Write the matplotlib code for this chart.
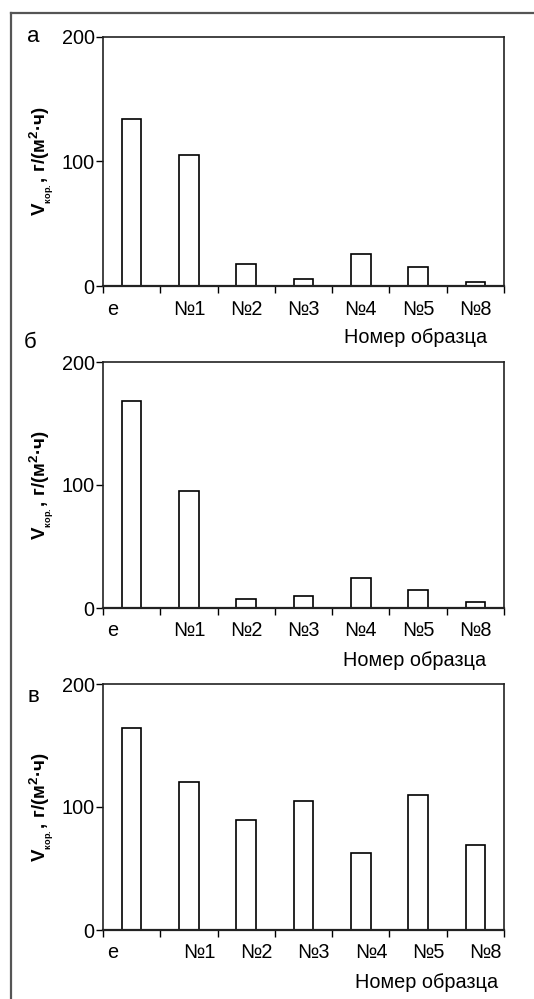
import matplotlib.pyplot as plt
import numpy as np
from matplotlib.lines import Line2D

plt.rcParams['font.family'] = ['Liberation Sans', 'DejaVu Sans']
plt.rcParams['mathtext.fontset'] = 'custom'
plt.rcParams['mathtext.rm'] = 'Liberation Sans'
plt.rcParams['mathtext.bf'] = 'Liberation Sans:bold'

samples = ['e', '№1', '№2', '№3', '№4', '№5', '№8']
rate_a = [134, 105, 17.5, 5.5, 25.5, 15.5, 3.5]
rate_b = [168, 95, 7.5, 9.5, 24.5, 14.5, 5]
rate_v = [164, 120, 89.5, 105, 63, 110, 69]
panel_letters = ['а', 'б', 'в']
xlabel = 'Номер образца'
ylabel = r'V$_{{}_{\mathregular{кор.}}}$, г/(м$^{\mathregular{2}}$·ч)'

W, H = 534, 999
fig = plt.figure(figsize=(W / 100, H / 100), dpi=100)

# outer frame: top and left lines only
fig.add_artist(Line2D([11 / W, 1.0], [1 - 12.5 / H] * 2, color='#555555', lw=1.6))
fig.add_artist(Line2D([11 / W] * 2, [0, 1 - 12.5 / H], color='#555555', lw=1.6))

# (top, bottom, label shift, xlabel y, xlabel right, letter x, letter y)
panels = [
    (37, 286, 0.0, 337, 487, 33, 36, rate_a),
    (362, 608, 0.0, 660, 486, 30, 343, rate_b),
    (684, 930, 0.18, 982, 498, 33, 697, rate_v),
]
left, right = 103, 504
x = np.arange(len(samples))
fs = 14.3

for (top, bot, shift, xl_y, xl_r, lx, ly, vals), letter in zip(panels, panel_letters):
    ax = fig.add_axes([left / W, 1 - bot / H, (right - left) / W, (bot - top) / H])
    ax.bar(x, vals, width=0.34, color='white', edgecolor='black', linewidth=1.2)
    ax.set_xlim(-0.5, len(samples) - 0.5)
    ax.set_ylim(0, 200)
    ax.set_yticks([0, 100, 200])
    ax.tick_params(axis='y', direction='out', length=5, width=1, labelsize=fs, pad=1)
    ax.set_xticks(np.arange(len(samples) + 1) - 0.5)
    ax.set_xticklabels([])
    ax.tick_params(axis='x', direction='out', length=5, width=1)
    for sp in ax.spines.values():
        sp.set_color('#222222')
        sp.set_linewidth(1.2)
    ax.spines['bottom'].set_linewidth(1.6)
    for i, s in enumerate(samples):
        pos = i - 0.33 if i == 0 else i + shift
        ax.text(pos, -23 / 246 * 200, s, ha='center', va='center', fontsize=fs,
                transform=ax.transData, clip_on=False)
    fig.text(xl_r / W, 1 - xl_y / H, xlabel, ha='right', va='center', fontsize=fs)
    fig.text(lx / W, 1 - ly / H, letter, ha='center', va='center', fontsize=16)
    ax.set_ylabel(ylabel, fontsize=13.5, fontweight='bold', labelpad=4)

fig.savefig('out.png', dpi=100)
